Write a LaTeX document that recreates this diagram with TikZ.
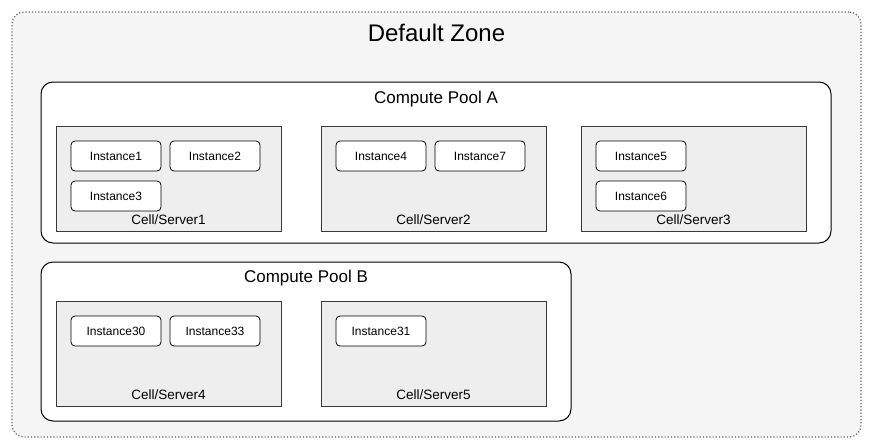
\documentclass[tikz,border=0pt]{standalone}
\usepackage{fontspec}
\setmainfont{Liberation Sans}
\usetikzlibrary{positioning,backgrounds}

\definecolor{zonefill}{HTML}{F5F5F5}
\definecolor{zoneline}{HTML}{666666}
\definecolor{cellfill}{HTML}{EEEEEE}
\definecolor{cellline}{HTML}{36393D}

\tikzset{
  zonebox/.style={shape=rectangle,rounded corners=12pt,draw=zoneline,fill=zonefill,line width=1.2pt,dotted,minimum width=849pt,minimum height=425pt},
  poolbox/.style={shape=rectangle,rounded corners=12pt,draw,fill=white,line width=1pt},
  cellbox/.style={shape=rectangle,draw=cellline,fill=cellfill,line width=.8pt,minimum width=225pt,minimum height=105pt},
  instbox/.style={shape=rectangle,rounded corners=4pt,draw,fill=white,line width=.8pt,minimum width=90pt,minimum height=30pt,font=\fontsize{12}{14}\selectfont},
  celltext/.style={font=\fontsize{13.5}{15}\selectfont},
  pooltext/.style={font=\fontsize{17}{19}\selectfont},
  zonetext/.style={font=\fontsize{24}{26}\selectfont}
}

\begin{document}
\begin{tikzpicture}[x=1pt,y=-1pt]
		\useasboundingbox (0,0) rectangle (872,447);
		\node (zone) at (436.5,224.5) [zonebox] {};
		\node (zonelabel) at (436.5,32.5) [zonetext] {Default Zone};
		\node (poolA) at (436,162.5) [poolbox,minimum width=790pt,minimum height=161pt] {};
		\node (poolAlabel) at (436,99.5) [pooltext] {Compute Pool A};
		\node (poolB) at (306,341.5) [poolbox,minimum width=530pt,minimum height=159pt] {};
		\node (poolBlabel) at (306,278.5) [pooltext] {Compute Pool B};
		% cells
		\node (cell1) at (168.5,178.5) [cellbox] {};
		\node (cell2) at (433.5,178.5) [cellbox] {};
		\node (cell3) at (693.5,178.5) [cellbox] {};
		\node (cell4) at (168.5,353.5) [cellbox] {};
		\node (cell5) at (433.5,353.5) [cellbox] {};
		\node (cell1label) at (168.5,220) [celltext] {Cell/Server1};
		\node (cell2label) at (433.5,220) [celltext] {Cell/Server2};
		\node (cell3label) at (693.5,220) [celltext] {Cell/Server3};
		\node (cell4label) at (168.5,395) [celltext] {Cell/Server4};
		\node (cell5label) at (433.5,395) [celltext] {Cell/Server5};
		% instances
		\node (inst1) at (116,156) [instbox] {Instance1};
		\node (inst2) at (215,156) [instbox] {Instance2};
		\node (inst3) at (116,196) [instbox] {Instance3};
		\node (inst4) at (381,156) [instbox] {Instance4};
		\node (inst7) at (480,156) [instbox] {Instance7};
		\node (inst5) at (641,156) [instbox] {Instance5};
		\node (inst6) at (641,196) [instbox] {Instance6};
		\node (inst30) at (116,331) [instbox] {Instance30};
		\node (inst33) at (215,331) [instbox] {Instance33};
		\node (inst31) at (381,331) [instbox] {Instance31};
	\end{tikzpicture}
\end{document}
